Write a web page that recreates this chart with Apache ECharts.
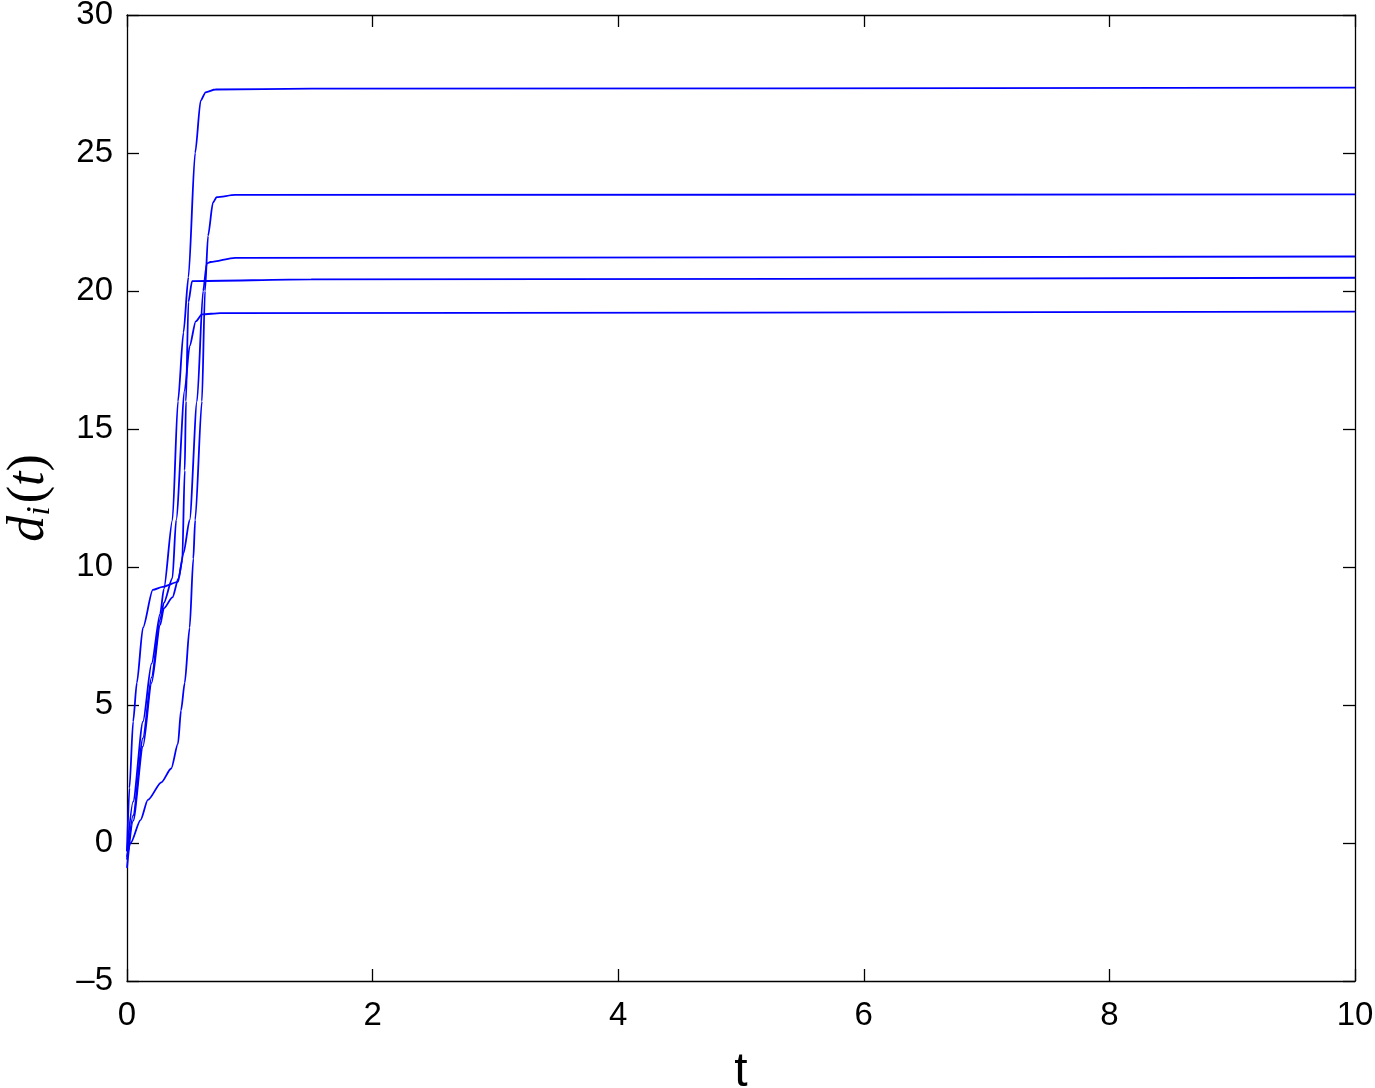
<!DOCTYPE html>
<html>
<head>
<meta charset="utf-8">
<script src="https://cdn.jsdelivr.net/npm/echarts@6/dist/echarts.min.js"></script>
<style>html,body{margin:0;padding:0;background:#fff}#c{width:1375px;height:1088px}</style>
</head>
<body>
<div id="c"></div>
<script>
// [t, d_i(t)] samples
const curveA = [[0,-0.3],[0.05,1.5],[0.13,4.4],[0.2,6.5],[0.27,8.3],[0.3,9.2],[0.37,11.7],[0.415,16],[0.46,18.5],[0.5,20.5],[0.555,25],[0.6,26.9],[0.64,27.2],[0.72,27.3],[1.5,27.33],[10,27.37]];
const curveB = [[0,-0.5],[0.03,0],[0.11,0.83],[0.17,1.56],[0.28,2.2],[0.36,2.7],[0.415,3.6],[0.44,4.8],[0.47,5.8],[0.51,7.8],[0.54,10.3],[0.555,11.7],[0.61,16],[0.635,20],[0.66,22],[0.7,23.2],[0.73,23.4],[0.88,23.48],[10,23.5]];
const curveC = [[0,-0.9],[0.05,0.8],[0.13,3.5],[0.2,5.8],[0.27,7.9],[0.3,8.5],[0.37,8.9],[0.42,9.6],[0.46,10.5],[0.51,11.7],[0.57,16],[0.62,20],[0.65,21.0],[0.68,21.05],[0.88,21.2],[10,21.25]];
const curveD = [[0,-0.3],[0.02,2],[0.05,4.4],[0.08,5.8],[0.13,7.8],[0.21,9.17],[0.29,9.28],[0.415,9.46],[0.45,10.25],[0.47,13.5],[0.48,16],[0.5,19.6],[0.53,20.36],[1.5,20.42],[10,20.48]];
const curveE = [[0,-0.6],[0.05,1.0],[0.13,3.8],[0.2,6.0],[0.27,8.1],[0.3,8.7],[0.37,9.6],[0.4,11.7],[0.47,16.4],[0.51,18],[0.56,18.9],[0.61,19.15],[0.76,19.2],[10,19.25]];
const curves = [curveA, curveB, curveC, curveD, curveE];
const xTicks = [0, 2, 4, 6, 8, 10];
const yTicks = [-5, 0, 5, 10, 15, 20, 25, 30];

const chart = echarts.init(document.getElementById('c'));
const fmt = v => String(v).replace('-', '\u2013');
const mkLine = () => ({show: true, onZero: false, lineStyle: {color: '#000', width: 1.3}});
const mkTick = () => ({show: true, inside: true, length: 12, lineStyle: {color: '#000', width: 1.3}});
const mkLbl = (m) => ({show: true, margin: m, formatter: fmt, color: '#000', fontSize: 33, fontFamily: 'Liberation Sans, Arial, sans-serif'});
chart.setOption({
  animation: false,
  backgroundColor: '#fff',
  grid: {left: 127, right: 20, top: 15, bottom: 107, containLabel: false, outerBoundsMode: 'none'},
  xAxis: [
    {type: 'value', min: xTicks[0], max: xTicks[xTicks.length-1], interval: 2, position: 'bottom',
     axisLine: mkLine(), axisTick: mkTick(), splitLine: {show: false},
     axisLabel: mkLbl(18),
     name: 't', nameLocation: 'middle', nameGap: 68,
     nameTextStyle: {fontSize: 48, color: '#000', fontFamily: 'Liberation Sans, Arial, sans-serif'}},
    {type: 'value', min: xTicks[0], max: xTicks[xTicks.length-1], interval: 2, position: 'top',
     axisLine: mkLine(), axisTick: mkTick(), axisLabel: {show: false}, splitLine: {show: false}}
  ],
  yAxis: [
    {type: 'value', min: yTicks[0], max: yTicks[yTicks.length-1], interval: 5, position: 'left',
     axisLine: mkLine(), axisTick: mkTick(), splitLine: {show: false},
     axisLabel: mkLbl(14),
     name: '{d|d}{i|i}{p|(}{t|t}{p|)}', nameLocation: 'middle', nameGap: 70, nameRotate: 90,
     nameTextStyle: {
       rich: {
         d: {fontSize: 52, fontStyle: 'italic', fontFamily: 'Liberation Serif, serif', color: '#000'},
         i: {fontSize: 34, fontStyle: 'italic', fontFamily: 'Liberation Serif, serif', color: '#000', padding: [22, 3, 0, 0]},
         t: {fontSize: 52, fontStyle: 'italic', fontFamily: 'Liberation Serif, serif', color: '#000'},
         p: {fontSize: 52, fontFamily: 'Liberation Serif, serif', color: '#000'}
       }
     }},
    {type: 'value', min: yTicks[0], max: yTicks[yTicks.length-1], interval: 5, position: 'right',
     axisLine: mkLine(), axisTick: mkTick(), axisLabel: {show: false}, splitLine: {show: false}}
  ],
  series: curves.map(c => ({
    type: 'line', data: c, xAxisIndex: 0, yAxisIndex: 0,
    showSymbol: false, smooth: 0.25, smoothMonotone: 'x',
    lineStyle: {color: '#0000ff', width: 1.8}, z: 1
  }))
});
</script>
</body>
</html>
